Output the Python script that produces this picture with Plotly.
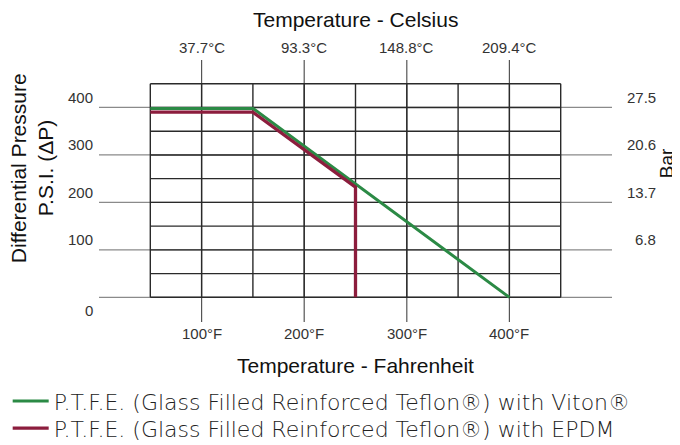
import plotly.graph_objects as go

# ---- data ----
viton_temp_f = [50, 150, 400]
viton_psi = [398, 398, 0]
epdm_temp_f = [50, 150, 250, 250]
epdm_psi = [390, 390, 232, 0]

fahrenheit_ticks = [100, 200, 300, 400]
fahrenheit_labels = ["100°F", "200°F", "300°F", "400°F"]
celsius_labels = ["37.7°C", "93.3°C", "148.8°C", "209.4°C"]
psi_ticks = [400, 300, 200, 100, 0]
psi_labels = ["400", "300", "200", "100", "0"]
bar_ticks = [400, 300, 200, 100]
bar_labels = ["27.5", "20.6", "13.7", "6.8"]

grid_x = list(range(50, 451, 50))
grid_y = list(range(0, 451, 50))

GREEN = "#2b8a45"
RED = "#8c1d3d"
SANS = "Liberation Sans, Arial, sans-serif"
LEG_FONT = "DejaVu Sans, sans-serif"

fig = go.Figure()
fig.add_trace(go.Scatter(x=viton_temp_f, y=viton_psi, mode="lines",
                         line=dict(color=GREEN, width=3), legend="legend",
                         name="P.T.F.E. (Glass Filled Reinforced Teflon®) with Viton®"))
fig.add_trace(go.Scatter(x=epdm_temp_f, y=epdm_psi, mode="lines",
                         line=dict(color=RED, width=3.3), legend="legend2",
                         name="P.T.F.E. (Glass Filled Reinforced Teflon®) with EPDM"))

shapes = []
# extended reference lines (gray)
for v in psi_ticks:
    shapes.append(dict(type="line", x0=0, x1=500, y0=v, y1=v,
                       line=dict(color="#8a8a8a", width=1.2), layer="below"))
for v in fahrenheit_ticks:
    shapes.append(dict(type="line", x0=v, x1=v, y0=-52, y1=500,
                       line=dict(color="#555555", width=1.2), layer="below"))
# box grid (dark)
for v in grid_x:
    shapes.append(dict(type="line", x0=v, x1=v, y0=0, y1=450,
                       line=dict(color="#2a2a2a", width=1.4), layer="below"))
for v in grid_y:
    shapes.append(dict(type="line", x0=50, x1=450, y0=v, y1=v,
                       line=dict(color="#2a2a2a", width=1.4), layer="below"))

ann = []
tick_font = dict(family=SANS, size=15, color="#333333")
for v, t in zip(fahrenheit_ticks, celsius_labels):
    ann.append(dict(x=v, y=1, xref="x", yref="paper", text=t, showarrow=False,
                    xanchor="center", yanchor="middle", yshift=13, font=tick_font))
for v, t in zip(fahrenheit_ticks, fahrenheit_labels):
    ann.append(dict(x=v, y=0, xref="x", yref="paper", text=t, showarrow=False,
                    xanchor="center", yanchor="middle", yshift=-11, font=tick_font))
for v, t in zip(psi_ticks, psi_labels):
    ann.append(dict(x=0, y=v, xref="paper", yref="y", text=t, showarrow=False,
                    xanchor="right", yanchor="middle", xshift=-4,
                    yshift=10 if v else -13, font=tick_font))
for v, t in zip(bar_ticks, bar_labels):
    ann.append(dict(x=1, y=v, xref="paper", yref="y", text=t, showarrow=False,
                    xanchor="right", yanchor="middle", xshift=46, yshift=10,
                    font=tick_font))

title_font = dict(family=SANS, size=21, color="#111111")
ann.append(dict(x=250, y=1, xref="x", yref="paper", text="Temperature - Celsius",
                showarrow=False, xanchor="center", yanchor="middle", yshift=41,
                font=title_font))
ann.append(dict(x=250, y=0, xref="x", yref="paper", text="Temperature - Fahrenheit",
                showarrow=False, xanchor="center", yanchor="middle", yshift=-43,
                font=title_font))
side_font = dict(family=SANS, size=21, color="#111111")
ann.append(dict(x=0, y=0.587, xref="paper", yref="paper", text="Differential Pressure",
                showarrow=False, textangle=-90, xanchor="center", yanchor="middle",
                xshift=-81, font=side_font))
ann.append(dict(x=0, y=0.587, xref="paper", yref="paper", text="P.S.I. (ΔP)",
                showarrow=False, textangle=-90, xanchor="center", yanchor="middle",
                xshift=-54, font=side_font))
ann.append(dict(x=1, y=0.606, xref="paper", yref="paper", text="Bar",
                showarrow=False, textangle=-90, xanchor="center", yanchor="middle",
                xshift=54, font=dict(family=SANS, size=19, color="#111111")))

legend_style = dict(x=-0.178, xanchor="left", yanchor="top",
                    font=dict(family=LEG_FONT, size=22, color="#222222", weight=300),
                    itemwidth=36, tracegroupgap=0, bgcolor="rgba(0,0,0,0)")

fig.update_layout(
    width=680, height=445,
    margin=dict(l=91, r=76, t=52, b=131, pad=0, autoexpand=False),
    paper_bgcolor="white", plot_bgcolor="white",
    xaxis=dict(range=[0, 500], visible=False, fixedrange=True),
    yaxis=dict(range=[-52, 500], visible=False, fixedrange=True),
    shapes=shapes, annotations=ann,
    showlegend=True,
    legend=dict(y=-0.222, **legend_style),
    legend2=dict(y=-0.326, **legend_style),
)

fig.write_html("out.html")
